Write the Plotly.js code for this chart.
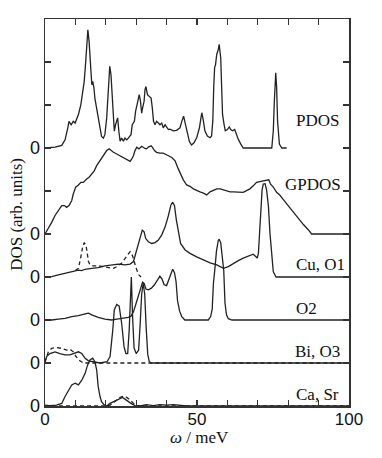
<!DOCTYPE html>
<html>
<head>
<meta charset="utf-8">
<script src="https://cdn.plot.ly/plotly-3.0.1.min.js"></script>
<style>
  html, body { margin: 0; padding: 0; background: #fff; }
  #plot { width: 382px; height: 458px; }
</style>
</head>
<body>
<div id="plot"></div>
<script>
// энергия (meV) и высота над своей нулевой линией (деления оси)
const pdosE = [0, 3.3, 5.5, 6.6, 7.5, 7.9, 8.6, 9.3, 9.9, 10.4, 11.0, 11.8, 12.6, 12.9, 13.4, 13.8, 14.1, 14.5, 14.9, 15.4, 15.7, 16.1, 16.4, 17.0, 17.5, 18.1, 18.6, 19.2, 19.7, 20.3, 20.8, 21.3, 21.7, 22.1, 22.6, 22.8, 23.2, 23.6, 23.9, 24.3, 24.7, 25.2, 25.8, 26.3, 26.9, 27.4, 28.3, 28.7, 29.4, 29.8, 30.5, 31.0, 31.4, 31.8, 32.1, 32.6, 32.9, 33.2, 33.7, 34.2, 34.9, 35.3, 35.7, 36.2, 36.7, 37.3, 37.8, 38.4, 38.9, 39.5, 40.0, 40.6, 41.1, 42.2, 43.3, 44.4, 45.0, 45.6, 46.2, 46.8, 47.5, 48.2, 49.0, 49.9, 50.8, 51.3, 51.6, 52.1, 52.6, 53.4, 54.3, 54.8, 55.2, 55.5, 55.8, 56.1, 56.5, 56.9, 57.3, 57.8, 58.1, 58.4, 58.9, 59.3, 60.0, 60.6, 61.1, 61.7, 62.4, 63.1, 63.6, 64.4, 65.2, 74.6, 75.1, 75.4, 75.9, 76.2, 76.5, 77.1, 77.9, 79.5];
const pdosY = [0, 0.02, 0.06, 0.19, 0.47, 0.62, 0.54, 0.62, 0.58, 0.66, 0.78, 1.01, 1.40, 1.55, 2.02, 2.48, 2.75, 2.48, 1.94, 1.47, 1.55, 1.40, 1.16, 0.93, 0.70, 0.47, 0.27, 0.23, 0.31, 0.70, 1.40, 1.90, 1.71, 1.16, 0.70, 0.39, 0.54, 0.62, 0.70, 0.39, 0.16, 0.23, 0.16, 0.23, 0.19, 0.23, 0.31, 0.54, 0.62, 0.85, 1.09, 1.24, 1.09, 0.81, 0.93, 1.09, 1.36, 1.43, 1.24, 1.20, 1.16, 0.93, 0.62, 0.54, 0.62, 0.58, 0.54, 0.58, 0.47, 0.54, 0.50, 0.43, 0.44, 0.40, 0.41, 0.47, 0.62, 0.74, 0.55, 0.33, 0.15, 0.07, 0.12, 0.24, 0.47, 0.70, 0.82, 0.63, 0.40, 0.28, 0.24, 0.28, 0.63, 1.40, 1.87, 1.94, 2.18, 2.26, 2.41, 2.10, 1.40, 0.78, 0.55, 0.40, 0.43, 0.49, 0.43, 0.40, 0.43, 0.28, 0.20, 0.09, 0, 0, 0.40, 1.02, 1.75, 1.40, 0.63, 0.09, 0, 0];

const gpdosE = [0, 1.1, 2.2, 3.3, 4.4, 5.5, 6.4, 7.1, 7.9, 8.8, 9.3, 10.1, 11.0, 11.8, 12.6, 13.2, 13.7, 14.5, 15.4, 16.2, 17.0, 17.8, 18.6, 19.5, 20.3, 21.1, 21.7, 22.5, 23.6, 24.7, 25.8, 26.9, 28.0, 28.5, 29.1, 29.6, 30.2, 30.9, 31.8, 32.9, 33.4, 34.0, 34.9, 35.3, 36.0, 36.7, 37.8, 38.9, 39.7, 40.6, 41.7, 42.8, 43.8, 44.6, 45.5, 46.6, 47.7, 48.8, 49.9, 51.0, 52.1, 53.2, 54.3, 55.4, 56.5, 57.6, 58.7, 59.8, 60.9, 62.0, 63.1, 64.1, 65.2, 66.3, 67.4, 68.5, 69.6, 70.7, 71.8, 72.9, 73.6, 74.2, 75.1, 76.2, 77.3, 78.4, 79.5, 80.6, 81.7, 82.8, 83.9, 85.0, 86.6, 87.7, 100];
const gpdosY = [0, 0.12, 0.27, 0.43, 0.54, 0.66, 0.66, 0.62, 0.66, 0.78, 0.93, 1.09, 1.14, 1.20, 1.20, 1.26, 1.28, 1.32, 1.40, 1.47, 1.59, 1.67, 1.78, 1.86, 1.94, 1.98, 1.94, 1.90, 1.86, 1.82, 1.78, 1.73, 1.69, 1.74, 1.82, 1.94, 2.02, 1.98, 2.04, 1.99, 1.98, 2.02, 2.05, 2.02, 1.94, 1.90, 1.88, 1.88, 1.86, 1.82, 1.78, 1.70, 1.52, 1.40, 1.26, 1.14, 1.11, 1.05, 1.01, 0.98, 0.95, 0.91, 0.98, 1.01, 1.05, 1.05, 1.03, 1.01, 0.98, 0.98, 0.98, 0.98, 0.97, 1.01, 1.05, 1.12, 1.20, 1.22, 1.24, 1.26, 1.26, 1.16, 1.09, 0.97, 0.90, 0.80, 0.70, 0.62, 0.52, 0.42, 0.32, 0.22, 0.10, 0, 0];

const cuSolidE = [0, 2.2, 4.4, 6.6, 8.8, 11.0, 12.1, 13.2, 15.4, 17.5, 19.7, 21.9, 24.1, 26.3, 28.0, 29.1, 29.8, 30.7, 31.5, 32.0, 32.6, 33.1, 34.0, 35.1, 36.2, 37.3, 38.4, 39.5, 40.6, 41.4, 42.0, 42.6, 43.2, 43.9, 44.6, 46.1, 47.7, 49.9, 52.1, 54.3, 56.5, 58.7, 60.3, 62.0, 63.6, 65.2, 67.4, 68.5, 69.4, 69.8, 70.2, 70.5, 70.9, 71.4, 71.8, 72.4, 72.9, 73.5, 74.0, 74.6, 75.1, 76.0, 100];
const cuSolidY = [0, 0.01, 0.05, 0.09, 0.12, 0.16, 0.15, 0.18, 0.20, 0.22, 0.26, 0.28, 0.30, 0.28, 0.30, 0.36, 0.55, 0.78, 1.01, 1.09, 1.05, 0.90, 0.82, 0.78, 0.80, 0.86, 0.98, 1.16, 1.43, 1.67, 1.74, 1.66, 1.33, 1.02, 0.78, 0.63, 0.55, 0.47, 0.40, 0.33, 0.28, 0.20, 0.24, 0.32, 0.38, 0.44, 0.49, 0.53, 0.47, 0.44, 0.55, 0.94, 1.64, 2.02, 2.16, 2.17, 2.02, 1.64, 1.02, 0.47, 0.12, 0, 0];

const cuDashE = [10.0, 11.0, 11.8, 12.4, 12.9, 13.5, 13.9, 14.3, 14.8, 15.9, 17.5, 19.2, 20.8, 22.5, 23.6, 25.2, 26.3, 27.2, 28.0, 28.7, 29.4, 30.2, 30.9, 31.6];
const cuDashY = [0.15, 0.20, 0.47, 0.71, 0.80, 0.74, 0.55, 0.36, 0.28, 0.26, 0.26, 0.24, 0.22, 0.20, 0.24, 0.32, 0.43, 0.53, 0.59, 0.51, 0.32, 0.16, 0.05, 0];

const o2E = [0, 2.2, 4.4, 6.6, 8.8, 11.0, 13.2, 14.3, 15.4, 17.5, 19.7, 21.9, 23.6, 25.8, 27.4, 28.3, 29.1, 29.8, 30.7, 31.5, 32.1, 32.6, 33.2, 34.0, 35.0, 36.0, 37.0, 37.8, 38.5, 39.2, 40.0, 40.8, 41.5, 42.0, 42.6, 43.1, 43.6, 44.3, 45.0, 46.0, 53.7, 54.5, 55.0, 55.4, 55.9, 56.4, 57.0, 57.3, 57.8, 58.3, 58.8, 59.2, 59.7, 60.3, 61.5, 100];
const o2Y = [0, 0, 0.02, 0.04, 0.08, 0.10, 0.14, 0.16, 0.12, 0.06, 0.02, 0, 0.02, 0.04, 0.06, 0.09, 0.19, 0.35, 0.54, 0.74, 0.88, 0.85, 0.72, 0.70, 0.74, 0.82, 0.95, 1.02, 0.95, 0.82, 0.80, 0.95, 1.12, 1.18, 1.10, 0.90, 0.45, 0.20, 0.08, 0, 0, 0.08, 0.25, 0.85, 1.20, 1.60, 1.85, 1.88, 1.80, 1.50, 1.15, 0.40, 0.12, 0.03, 0, 0];

const biSolidE = [0, 0.55, 1.6, 3.3, 4.9, 6.6, 8.2, 9.9, 11.0, 12.1, 13.2, 14.3, 15.9, 18.1, 20.4, 21.4, 22.3, 22.8, 23.6, 24.4, 25.2, 26.0, 26.6, 27.2, 27.7, 28.0, 28.4, 28.8, 29.3, 30.0, 30.8, 31.3, 31.8, 32.3, 32.8, 33.3, 33.8, 34.3, 35.0, 100];
const biSolidY = [0.03, 0.15, 0.22, 0.26, 0.22, 0.19, 0.19, 0.24, 0.26, 0.22, 0.11, 0.05, 0.03, 0, 0.03, 0.15, 0.77, 1.24, 1.36, 1.32, 0.93, 0.38, 0.22, 0.22, 0.77, 1.30, 2.00, 1.10, 0.35, 0.22, 0.30, 0.90, 1.60, 1.86, 1.60, 0.80, 0.20, 0.03, 0, 0];

const biDashE = [0, 0.4, 1.1, 2.2, 3.8, 5.5, 7.1, 8.2, 9.3, 10.2, 11.5, 12.6, 100];
const biDashY = [0.02, 0.11, 0.26, 0.34, 0.36, 0.34, 0.30, 0.32, 0.26, 0.15, 0.05, 0, 0];

const caSolidE = [0, 1.6, 3.8, 5.5, 6.6, 7.7, 8.8, 9.9, 11.0, 12.1, 13.2, 14.0, 14.8, 15.7, 16.4, 17.0, 17.5, 18.1, 18.6, 19.4, 20.3, 21.4, 22.5, 23.6, 24.7, 25.5, 26.3, 27.4, 28.5, 29.6, 31.3, 33.4, 35.6, 37.8, 40.0, 42.2, 44.4, 46.6, 100];
const caSolidY = [0.02, 0.01, 0.02, 0.06, 0.22, 0.37, 0.49, 0.53, 0.49, 0.60, 0.76, 0.95, 1.07, 1.11, 1.03, 0.84, 0.45, 0.22, 0.10, 0.03, 0, 0.06, 0.10, 0.14, 0.18, 0.20, 0.16, 0.10, 0.05, 0.01, 0, 0.03, 0.01, 0.03, 0.02, 0.03, 0.02, 0, 0];

const caDashE = [0, 20.3, 21.4, 23.0, 24.7, 25.8, 26.9, 28.0, 29.1, 30.2, 31.5, 100];
const caDashY = [0, 0, 0.02, 0.10, 0.20, 0.23, 0.20, 0.14, 0.06, 0.01, 0, 0];

// нулевые линии кривых (в делениях оси)
const pdosBase = 6, gpdosBase = 4, cuBase = 3, o2Base = 2, biBase = 1, caBase = 0;

const labels = ['PDOS', 'GPDOS', 'Cu, O1', 'O2', 'Bi, O3', 'Ca, Sr'];
const labelX = [81.9, 78.3, 81.9, 81.9, 81.6, 81.9];
const labelY = [6.63, 5.14, 3.29, 2.27, 1.26, 0.27];

const xTicks = [0, 10, 20, 30, 40, 50, 60, 70, 80, 90, 100];
const xTickText = ['0', '', '', '', '', '50', '', '', '', '', '100'];
const yTicks = [0, 1, 2, 3, 4, 5, 6, 7, 8, 9];
const yTickText = ['0', '0', '0', '0', '0', '', '0', '', '', ''];

function curve(e, h, base, dashed) {
    return {
        x: e,
        y: h.map(v => v + base),
        type: 'scatter',
        mode: 'lines',
        line: { color: '#222', width: 1.3, dash: dashed ? '4px,3px' : 'solid' },
        hoverinfo: 'skip'
    };
}

const traces = [
    curve(caDashE, caDashY, caBase, true),
    curve(caSolidE, caSolidY, caBase, false),
    curve(biDashE, biDashY, biBase, true),
    curve(biSolidE, biSolidY, biBase, false),
    curve(o2E, o2Y, o2Base, false),
    curve(cuDashE, cuDashY, cuBase, true),
    curve(cuSolidE, cuSolidY, cuBase, false),
    curve(gpdosE, gpdosY, gpdosBase, false),
    curve(pdosE, pdosY, pdosBase, false)
];

const annotations = labels.map((t, i) => ({
    x: labelX[i], y: labelY[i], xref: 'x', yref: 'y',
    text: t, showarrow: false, xanchor: 'left', yanchor: 'middle',
    font: { family: 'Liberation Serif, serif', size: 17, color: '#111' }
}));

annotations.push({
    x: -0.092, y: 0.494, xref: 'paper', yref: 'paper',
    text: 'DOS (arb. units)', textangle: -90, showarrow: false,
    xanchor: 'center', yanchor: 'middle',
    font: { family: 'Liberation Serif, serif', size: 17, color: '#111' }
});
annotations.push({
    x: 0.508, y: -0.082, xref: 'paper', yref: 'paper',
    text: '<i>ω</i> / meV', showarrow: false,
    xanchor: 'center', yanchor: 'middle',
    font: { family: 'Liberation Serif, serif', size: 17, color: '#111' }
});

const layout = {
    width: 382,
    height: 458,
    margin: { l: 45, r: 33, t: 19, b: 52 },
    paper_bgcolor: '#fff',
    plot_bgcolor: '#fff',
    showlegend: false,
    xaxis: {
        range: [0, 100],
        tickmode: 'array', tickvals: xTicks, ticktext: xTickText,
        ticks: 'inside', ticklen: 6, tickwidth: 1.3, tickcolor: '#333',
        showline: true, linecolor: '#333', linewidth: 1.5, mirror: 'ticks',
        showgrid: false, zeroline: false,
        ticklabelstandoff: -3,
        tickfont: { family: 'Liberation Sans, Arial, sans-serif', size: 17, color: '#111' }
    },
    yaxis: {
        range: [0, 9],
        tickmode: 'array', tickvals: yTicks, ticktext: yTickText,
        ticks: 'inside', ticklen: 6, tickwidth: 1.3, tickcolor: '#333',
        showline: true, linecolor: '#333', linewidth: 1.5, mirror: 'ticks',
        showgrid: false, zeroline: false,
        tickfont: { family: 'Liberation Sans, Arial, sans-serif', size: 18, color: '#111' }
    },
    annotations: annotations
};

Plotly.newPlot('plot', traces, layout, { staticPlot: true });
</script>
</body>
</html>
